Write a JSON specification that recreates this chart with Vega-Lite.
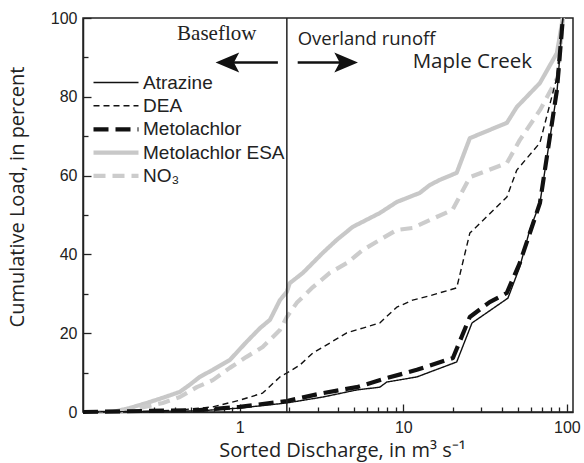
{
  "$schema": "https://vega.github.io/schema/vega-lite/v6.json",
  "autosize": {"type": "none"},
  "width": 490,
  "height": 394,
  "padding": {"left": 83, "top": 18, "right": 11, "bottom": 51},
  "background": "white",
  "config": {
    "view": {"stroke": "#222222", "strokeWidth": 1.5},
    "axis": {"grid": false, "domainColor": "#222222", "tickColor": "#222222", "labelColor": "#222222", "titleColor": "#222222", "domainWidth": 1.5, "tickWidth": 1.3},
    "legend": {"orient": "none", "legendX": 23, "legendY": 55, "title": null, "symbolType": "M -3 0 H 3", "symbolSize": 225, "labelFont": "Liberation Sans", "labelFontSize": 19, "labelColor": "#222222", "labelOffset": 17, "rowPadding": 3.2}
  },
  "datasets": {
    "loads": [
      {"s": "Metolachlor ESA", "x": 0.11, "y": 0},
      {"s": "Metolachlor ESA", "x": 0.167, "y": 0},
      {"s": "Metolachlor ESA", "x": 0.212, "y": 1.0},
      {"s": "Metolachlor ESA", "x": 0.27, "y": 2.3},
      {"s": "Metolachlor ESA", "x": 0.338, "y": 3.6},
      {"s": "Metolachlor ESA", "x": 0.43, "y": 5.1},
      {"s": "Metolachlor ESA", "x": 0.494, "y": 6.9},
      {"s": "Metolachlor ESA", "x": 0.569, "y": 8.9},
      {"s": "Metolachlor ESA", "x": 0.684, "y": 10.7},
      {"s": "Metolachlor ESA", "x": 0.869, "y": 13.2},
      {"s": "Metolachlor ESA", "x": 1.10, "y": 17.8},
      {"s": "Metolachlor ESA", "x": 1.33, "y": 21.3},
      {"s": "Metolachlor ESA", "x": 1.53, "y": 23.4},
      {"s": "Metolachlor ESA", "x": 1.76, "y": 28.4},
      {"s": "Metolachlor ESA", "x": 1.94, "y": 30.5},
      {"s": "Metolachlor ESA", "x": 2.02, "y": 32.7},
      {"s": "Metolachlor ESA", "x": 2.43, "y": 35.3},
      {"s": "Metolachlor ESA", "x": 2.79, "y": 37.8},
      {"s": "Metolachlor ESA", "x": 3.22, "y": 40.4},
      {"s": "Metolachlor ESA", "x": 3.92, "y": 43.7},
      {"s": "Metolachlor ESA", "x": 4.91, "y": 47.0},
      {"s": "Metolachlor ESA", "x": 6.24, "y": 49.2},
      {"s": "Metolachlor ESA", "x": 7.18, "y": 50.5},
      {"s": "Metolachlor ESA", "x": 9.12, "y": 53.3},
      {"s": "Metolachlor ESA", "x": 12.6, "y": 55.6},
      {"s": "Metolachlor ESA", "x": 14.5, "y": 57.6},
      {"s": "Metolachlor ESA", "x": 16.7, "y": 58.9},
      {"s": "Metolachlor ESA", "x": 21.2, "y": 60.7},
      {"s": "Metolachlor ESA", "x": 25.5, "y": 69.5},
      {"s": "Metolachlor ESA", "x": 43.0, "y": 73.4},
      {"s": "Metolachlor ESA", "x": 49.4, "y": 77.4},
      {"s": "Metolachlor ESA", "x": 68.4, "y": 83.5},
      {"s": "Metolachlor ESA", "x": 86.9, "y": 91.1},
      {"s": "Metolachlor ESA", "x": 94.5, "y": 100},
      {"s": "NO₃", "x": 0.11, "y": 0},
      {"s": "NO₃", "x": 0.17, "y": 0},
      {"s": "NO₃", "x": 0.212, "y": 0.5},
      {"s": "NO₃", "x": 0.338, "y": 2.3},
      {"s": "NO₃", "x": 0.43, "y": 3.8},
      {"s": "NO₃", "x": 0.546, "y": 6.3},
      {"s": "NO₃", "x": 0.684, "y": 8.1},
      {"s": "NO₃", "x": 0.869, "y": 11.2},
      {"s": "NO₃", "x": 1.10, "y": 14.0},
      {"s": "NO₃", "x": 1.38, "y": 16.5},
      {"s": "NO₃", "x": 1.76, "y": 20.8},
      {"s": "NO₃", "x": 1.94, "y": 24.1},
      {"s": "NO₃", "x": 2.23, "y": 27.7},
      {"s": "NO₃", "x": 2.80, "y": 31.7},
      {"s": "NO₃", "x": 3.55, "y": 35.3},
      {"s": "NO₃", "x": 4.51, "y": 37.8},
      {"s": "NO₃", "x": 5.65, "y": 41.1},
      {"s": "NO₃", "x": 7.18, "y": 43.7},
      {"s": "NO₃", "x": 9.12, "y": 46.2},
      {"s": "NO₃", "x": 11.4, "y": 46.7},
      {"s": "NO₃", "x": 14.5, "y": 48.7},
      {"s": "NO₃", "x": 20.0, "y": 51.3},
      {"s": "NO₃", "x": 25.5, "y": 59.6},
      {"s": "NO₃", "x": 43.0, "y": 63.2},
      {"s": "NO₃", "x": 51.5, "y": 69.0},
      {"s": "NO₃", "x": 68.4, "y": 76.6},
      {"s": "NO₃", "x": 88.0, "y": 85.0},
      {"s": "NO₃", "x": 94.5, "y": 100},
      {"s": "DEA", "x": 0.11, "y": 0},
      {"s": "DEA", "x": 0.212, "y": 0},
      {"s": "DEA", "x": 0.43, "y": 0.5},
      {"s": "DEA", "x": 0.684, "y": 1.3},
      {"s": "DEA", "x": 1.0, "y": 3.0},
      {"s": "DEA", "x": 1.38, "y": 4.8},
      {"s": "DEA", "x": 1.76, "y": 8.9},
      {"s": "DEA", "x": 1.94, "y": 9.9},
      {"s": "DEA", "x": 2.33, "y": 11.9},
      {"s": "DEA", "x": 2.80, "y": 15.0},
      {"s": "DEA", "x": 3.55, "y": 17.5},
      {"s": "DEA", "x": 4.51, "y": 20.1},
      {"s": "DEA", "x": 5.65, "y": 21.3},
      {"s": "DEA", "x": 7.18, "y": 22.6},
      {"s": "DEA", "x": 9.12, "y": 26.6},
      {"s": "DEA", "x": 11.4, "y": 28.4},
      {"s": "DEA", "x": 14.5, "y": 29.5},
      {"s": "DEA", "x": 21.2, "y": 31.5},
      {"s": "DEA", "x": 25.5, "y": 45.4},
      {"s": "DEA", "x": 43.0, "y": 54.6},
      {"s": "DEA", "x": 49.4, "y": 61.4},
      {"s": "DEA", "x": 68.4, "y": 68.3},
      {"s": "DEA", "x": 86.9, "y": 85.0},
      {"s": "DEA", "x": 94.5, "y": 100},
      {"s": "Atrazine", "x": 0.11, "y": 0},
      {"s": "Atrazine", "x": 0.569, "y": 0.3},
      {"s": "Atrazine", "x": 1.0, "y": 1.0},
      {"s": "Atrazine", "x": 1.94, "y": 2.3},
      {"s": "Atrazine", "x": 3.22, "y": 3.8},
      {"s": "Atrazine", "x": 5.19, "y": 5.6},
      {"s": "Atrazine", "x": 7.18, "y": 6.3},
      {"s": "Atrazine", "x": 7.92, "y": 7.6},
      {"s": "Atrazine", "x": 12.1, "y": 8.9},
      {"s": "Atrazine", "x": 21.2, "y": 12.7},
      {"s": "Atrazine", "x": 26.3, "y": 22.6},
      {"s": "Atrazine", "x": 43.6, "y": 28.9},
      {"s": "Atrazine", "x": 51.5, "y": 36.8},
      {"s": "Atrazine", "x": 59.3, "y": 46.2},
      {"s": "Atrazine", "x": 68.4, "y": 53.0},
      {"s": "Atrazine", "x": 86.9, "y": 81.0},
      {"s": "Atrazine", "x": 94.5, "y": 100},
      {"s": "Metolachlor", "x": 0.11, "y": 0},
      {"s": "Metolachlor", "x": 0.569, "y": 0.5},
      {"s": "Metolachlor", "x": 1.0, "y": 1.3},
      {"s": "Metolachlor", "x": 1.94, "y": 2.8},
      {"s": "Metolachlor", "x": 3.22, "y": 4.8},
      {"s": "Metolachlor", "x": 5.19, "y": 6.3},
      {"s": "Metolachlor", "x": 7.92, "y": 8.6},
      {"s": "Metolachlor", "x": 12.1, "y": 10.7},
      {"s": "Metolachlor", "x": 20.1, "y": 13.7},
      {"s": "Metolachlor", "x": 25.5, "y": 24.1},
      {"s": "Metolachlor", "x": 33.7, "y": 27.9},
      {"s": "Metolachlor", "x": 42.9, "y": 30.2},
      {"s": "Metolachlor", "x": 51.5, "y": 37.8},
      {"s": "Metolachlor", "x": 68.4, "y": 53.0},
      {"s": "Metolachlor", "x": 86.9, "y": 81.7},
      {"s": "Metolachlor", "x": 94.5, "y": 100}
    ],
    "divide": [{"x": 1.94}],
    "shafts": [
      {"x": 1.71, "x2": 0.89, "y": 88.7},
      {"x": 2.26, "x2": 4.6, "y": 88.7}
    ],
    "headsLeft": [{"x": 0.84, "y": 88.7}],
    "headsRight": [{"x": 4.47, "y": 88.7}],
    "serifText": [{"label": "Baseflow", "x": 0.723, "y": 94.4}],
    "runoffText": [{"label": "Overland runoff", "x": 2.26, "y": 93.1}],
    "siteText": [{"label": "Maple Creek", "x": 11.4, "y": 87.3}]
  },
  "resolve": {"axis": {"x": "independent", "y": "independent"}},
  "layer": [
    {
      "data": {"name": "loads"},
      "mark": {"type": "line", "strokeCap": "butt", "strokeJoin": "round"},
      "encoding": {
        "x": {
          "field": "x", "type": "quantitative",
          "scale": {"type": "log", "domain": [0.11, 109], "nice": false},
          "axis": {"orient": "bottom", "values": [1, 10, 100], "format": "~g", "ticks": false, "labelFont": "Liberation Sans", "labelFontSize": 16, "labelPadding": 7, "title": "Sorted Discharge, in m³ s⁻¹", "titleFont": "Open Sans", "titleFontSize": 20, "titleFontWeight": "normal", "titlePadding": 5, "titleX": 259}
        },
        "y": {
          "field": "y", "type": "quantitative",
          "scale": {"domain": [0, 100], "nice": false},
          "axis": {"orient": "left", "values": [0, 20, 40, 60, 80, 100], "ticks": false, "labelFont": "Liberation Sans", "labelFontSize": 16, "labelPadding": 6, "title": "Cumulative Load, in percent", "titleFont": "Open Sans", "titleFontSize": 20, "titleFontWeight": "normal", "titlePadding": 23, "titleY": 178.5}
        },
        "color": {
          "field": "s", "type": "nominal",
          "scale": {"domain": ["Atrazine", "DEA", "Metolachlor", "Metolachlor ESA", "NO₃"], "range": ["#111111", "#111111", "#111111", "#c8c8c8", "#cccccc"]}
        },
        "strokeDash": {
          "field": "s", "type": "nominal",
          "scale": {"domain": ["Atrazine", "DEA", "Metolachlor", "Metolachlor ESA", "NO₃"], "range": [[1, 0], [6, 4], [15, 7], [1, 0], [12, 7]]}
        },
        "strokeWidth": {
          "field": "s", "type": "nominal",
          "scale": {"type": "ordinal", "domain": ["Atrazine", "DEA", "Metolachlor", "Metolachlor ESA", "NO₃"], "range": [1.4, 1.4, 4.2, 4.2, 4.2]}
        }
      }
    },
    {
      "data": {"name": "divide"},
      "mark": {"type": "rule", "color": "#222222", "strokeWidth": 1.5},
      "encoding": {"x": {"field": "x", "type": "quantitative", "axis": null}}
    },
    {
      "data": {"name": "shafts"},
      "mark": {"type": "rule", "color": "#111111", "strokeWidth": 2.4},
      "encoding": {
        "x": {"field": "x", "type": "quantitative", "axis": {"orient": "bottom", "values": [1, 10, 100], "labels": false, "domain": false, "ticks": true, "tickSize": -8, "title": null}},
        "x2": {"field": "x2"},
        "y": {"field": "y", "type": "quantitative", "axis": {"orient": "left", "values": [0, 20, 40, 60, 80, 100], "labels": false, "domain": false, "ticks": true, "tickSize": -8, "title": null}}
      }
    },
    {
      "data": {"name": "headsLeft"},
      "mark": {"type": "point", "shape": "M -1 0 L 1 -0.85 L 0.55 0 L 1 0.85 Z", "size": 560, "filled": true, "color": "#111111", "opacity": 1},
      "encoding": {
        "x": {"field": "x", "type": "quantitative", "axis": {"orient": "bottom", "values": [0.2, 0.3, 0.4, 0.5, 0.6, 0.7, 0.8, 0.9, 2, 3, 4, 5, 6, 7, 8, 9, 20, 30, 40, 50, 60, 70, 80, 90], "labels": false, "domain": false, "ticks": true, "tickSize": -5, "title": null}},
        "y": {"field": "y", "type": "quantitative", "axis": {"orient": "left", "values": [10, 30, 50, 70, 90], "labels": false, "domain": false, "ticks": true, "tickSize": -5, "title": null}}
      }
    },
    {
      "data": {"name": "headsRight"},
      "mark": {"type": "point", "shape": "M 1 0 L -1 -0.85 L -0.55 0 L -1 0.85 Z", "size": 560, "filled": true, "color": "#111111", "opacity": 1},
      "encoding": {
        "x": {"field": "x", "type": "quantitative", "axis": null},
        "y": {"field": "y", "type": "quantitative", "axis": null}
      }
    },
    {
      "data": {"name": "serifText"},
      "mark": {"type": "text", "font": "Liberation Serif", "fontSize": 21, "align": "center", "baseline": "alphabetic", "color": "#222222"},
      "encoding": {
        "x": {"field": "x", "type": "quantitative", "axis": null},
        "y": {"field": "y", "type": "quantitative", "axis": null},
        "text": {"field": "label"}
      }
    },
    {
      "data": {"name": "runoffText"},
      "mark": {"type": "text", "font": "Open Sans", "fontSize": 18.5, "align": "left", "baseline": "alphabetic", "color": "#222222"},
      "encoding": {
        "x": {"field": "x", "type": "quantitative", "axis": null},
        "y": {"field": "y", "type": "quantitative", "axis": null},
        "text": {"field": "label"}
      }
    },
    {
      "data": {"name": "siteText"},
      "mark": {"type": "text", "font": "Open Sans", "fontSize": 20.5, "align": "left", "baseline": "alphabetic", "color": "#222222"},
      "encoding": {
        "x": {"field": "x", "type": "quantitative", "axis": null},
        "y": {"field": "y", "type": "quantitative", "axis": null},
        "text": {"field": "label"}
      }
    }
  ]
}
